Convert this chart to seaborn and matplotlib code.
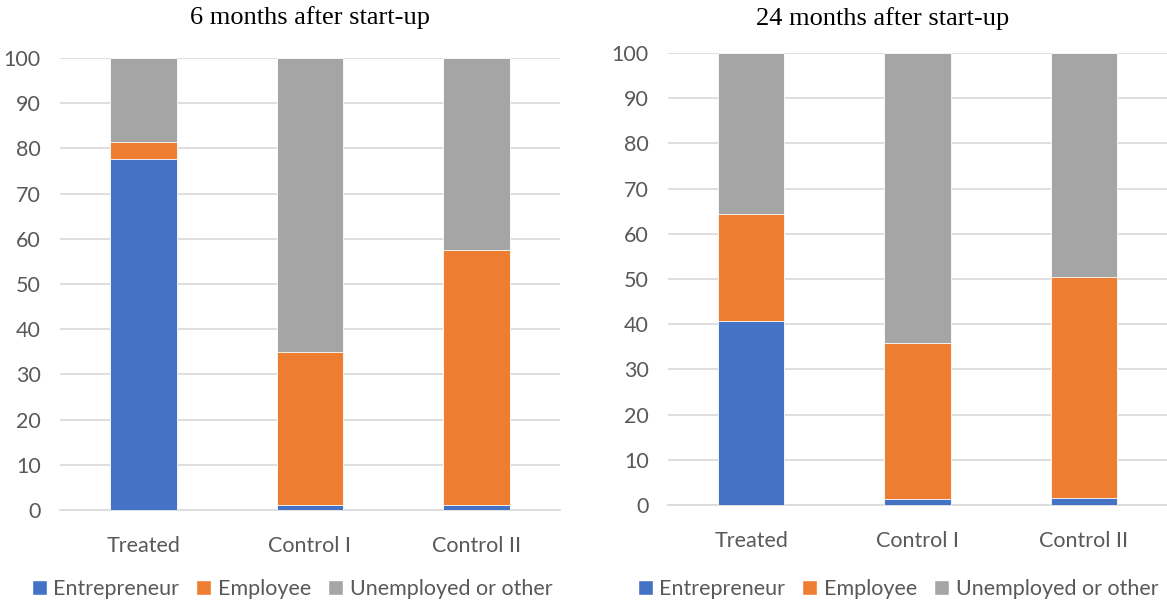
import numpy as np
import pandas as pd
import matplotlib
matplotlib.use("Agg")
import matplotlib.pyplot as plt
import seaborn as sns
from matplotlib.patches import Patch

groups = ["Treated", "Control I", "Control II"]
statuses = ["Entrepreneur", "Employee", "Unemployed or other"]
colors = ["#4472C4", "#ED7D31", "#A5A5A5"]

# share in %, per group
entre_6 = [77.7, 1.0, 1.2]
emplo_6 = [3.7, 34.0, 56.3]
unemp_6 = [18.6, 65.0, 42.5]

entre_24 = [40.7, 1.4, 1.5]
emplo_24 = [23.7, 34.5, 48.9]
unemp_24 = [35.6, 64.1, 49.6]

titles = ["6 months after start-up", "24 months after start-up"]

sns.set_theme(style="white")
plt.rcParams["font.family"] = ["Lato", "DejaVu Sans"]

fig = plt.figure(figsize=(11.67, 6.03), dpi=100)
ax1 = fig.add_axes([60/1167, 1-510/603, 500/1167, 452/603])
ax2 = fig.add_axes([668/1167, 1-505/603, 499/1167, 452/603])

# axes, data, title centre x/y, legend centre x (pixels)
panels = [(ax1, entre_6, emplo_6, unemp_6, titles[0], 310, 18, 292),
          (ax2, entre_24, emplo_24, unemp_24, titles[1], 883, 19, 898)]

for ax, e, m, u, title, tx, ty, lx in panels:
    df = pd.DataFrame({"group": groups, "Entrepreneur": e, "Employee": m,
                       "Unemployed or other": u})
    # cumulative heights so the later bars sit on top of each other
    df["c1"] = df["Entrepreneur"]
    df["c2"] = df["c1"] + df["Employee"]
    df["c3"] = df["c2"] + df["Unemployed or other"]
    for col, c in zip(["c3", "c2", "c1"], colors[::-1]):
        sns.barplot(data=df, x="group", y=col, color=c, width=0.4,
                    saturation=1, edgecolor="white", linewidth=0.6, ax=ax, zorder=3)
    ax.set_ylim(0, 100)
    ax.set_xlim(-0.5, 2.5)
    ax.set_yticks(range(0, 101, 10))
    ax.yaxis.grid(True, color="#D9D9D9", linewidth=1.2, zorder=0)
    ax.set_axisbelow(True)
    for s in ["top", "right", "left"]:
        ax.spines[s].set_visible(False)
    ax.spines["bottom"].set_color("#D9D9D9")
    ax.spines["bottom"].set_linewidth(1.2)
    ax.tick_params(axis="both", length=0, labelsize=15.5, colors="#595959")
    ax.tick_params(axis="x", pad=19)
    ax.tick_params(axis="y", pad=14)
    ax.set(xlabel=None, ylabel=None)
    fig.text(tx/1167, 1-ty/603, title, family="Liberation Serif", fontsize=19,
             color="black", ha="center", va="center")

    handles = [Patch(facecolor=c, label=s) for c, s in zip(colors, statuses)]
    fig.legend(handles=handles, loc="center", bbox_to_anchor=(lx/1167, 1-589/603),
               ncol=3, frameon=False, fontsize=15.5, labelcolor="#595959",
               handlelength=0.7, handleheight=0.7, handletextpad=0.3,
               columnspacing=0.8, borderpad=0)

fig.savefig("out.png", dpi=100)
